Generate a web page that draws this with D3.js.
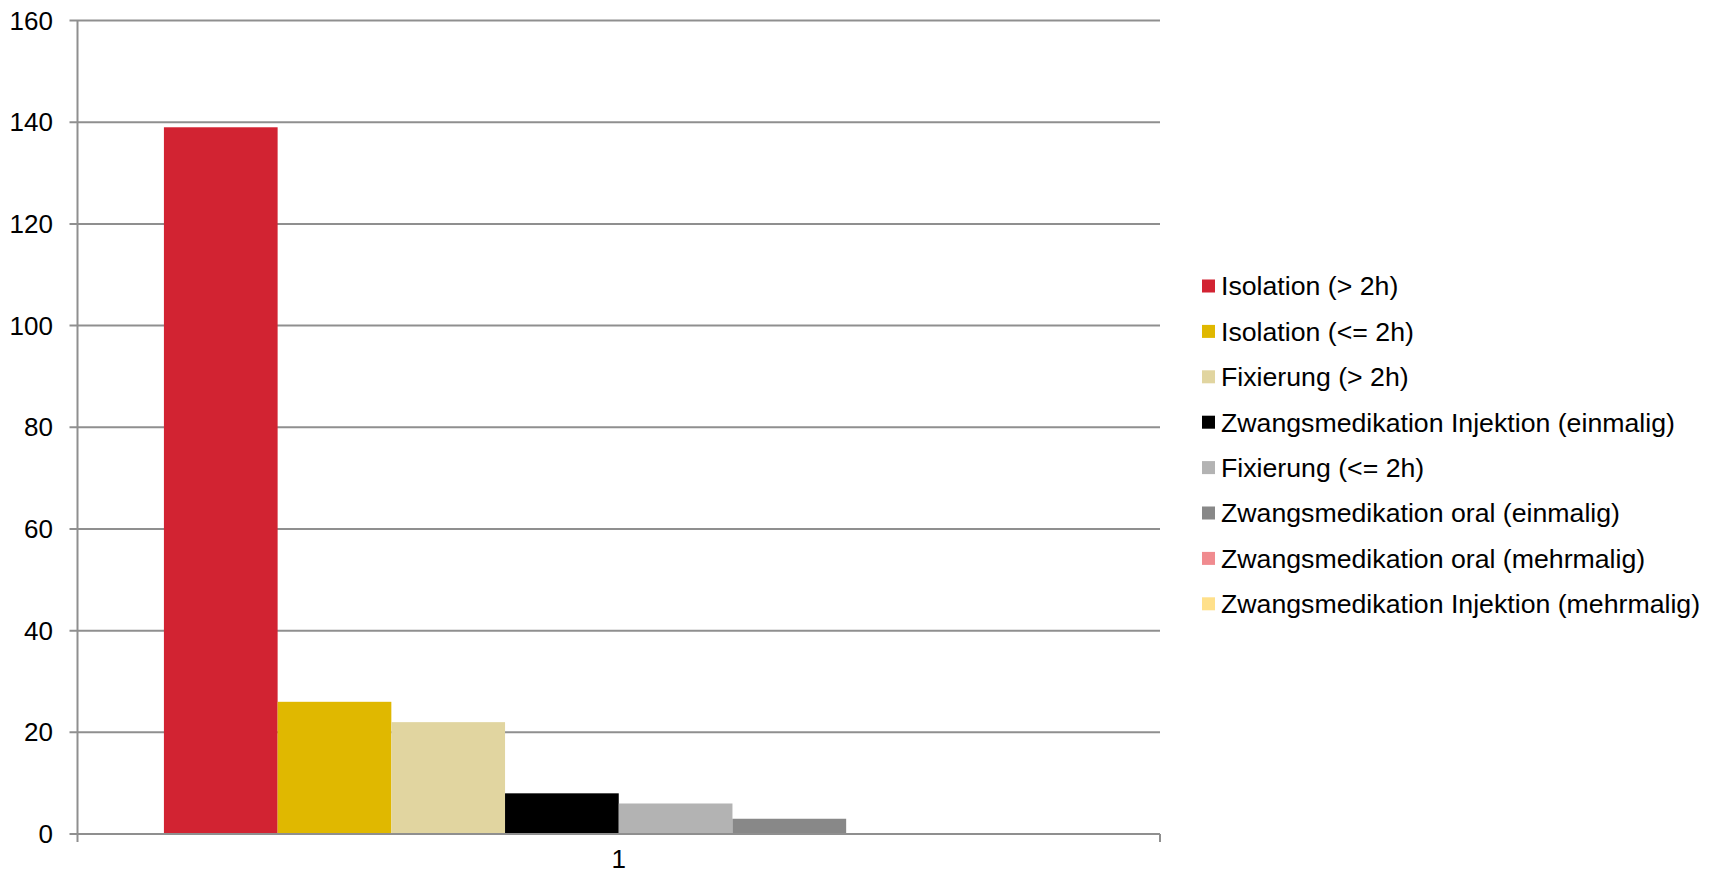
<!DOCTYPE html>
<html>
<head>
<meta charset="utf-8">
<script src="https://cdn.jsdelivr.net/npm/d3@7"></script>
<style>
  body { margin: 0; background: #fff; }
  text { font-family: "Liberation Sans", Arial, sans-serif; fill: #000; }
</style>
</head>
<body>
<svg id="chart" width="1713" height="874"></svg>
<script>
var categories = ['1'];
var seriesNames = [
  'Isolation (> 2h)',
  'Isolation (<= 2h)',
  'Fixierung (> 2h)',
  'Zwangsmedikation Injektion (einmalig)',
  'Fixierung (<= 2h)',
  'Zwangsmedikation oral (einmalig)',
  'Zwangsmedikation oral (mehrmalig)',
  'Zwangsmedikation Injektion (mehrmalig)'
];
var seriesValues = [139, 26, 22, 8, 6, 3, 0, 0];
var seriesColors = ['#d22332', '#e0b800', '#e1d5a0', '#000000', '#b3b3b3', '#888888', '#f08b8f', '#ffe08a'];
var yTicks = [0, 20, 40, 60, 80, 100, 120, 140, 160];

var svg = d3.select('#chart');
var plot = { left: 77.5, right: 1160, top: 20.5, bottom: 834 };
var gridColor = '#8f8f8f';

var y = d3.scaleLinear().domain([0, 160]).range([plot.bottom, plot.top]);
var x0 = d3.scaleBand().domain(categories).range([plot.left, plot.right]).padding(0);
// series inside the category band, with an Excel-style gap on both sides
var x1 = d3.scaleBand().domain(seriesNames)
  .range([0, x0.bandwidth()]).paddingInner(0).paddingOuter(0.76);

// horizontal gridlines + y tick marks
svg.append('g').selectAll('line').data(yTicks).enter()
  .append('line')
  .attr('x1', plot.left - 8).attr('x2', plot.right)
  .attr('y1', function(d) { return y(d); }).attr('y2', function(d) { return y(d); })
  .attr('stroke', gridColor).attr('stroke-width', 2);

// y labels
svg.append('g').selectAll('text').data(yTicks).enter()
  .append('text')
  .attr('x', 53).attr('y', function(d) { return y(d); })
  .attr('dy', '0.35em').attr('text-anchor', 'end')
  .style('font-size', '26px')
  .text(function(d) { return d; });

// bars
var group = svg.append('g').selectAll('g').data(categories).enter()
  .append('g').attr('transform', function(c) { return 'translate(' + x0(c) + ',0)'; });
group.selectAll('rect').data(seriesValues.map(function(v, i) {
    return { name: seriesNames[i], value: v, color: seriesColors[i] };
  })).enter()
  .append('rect')
  .attr('x', function(d) { return x1(d.name); })
  .attr('width', x1.bandwidth())
  .attr('y', function(d) { return y(d.value); })
  .attr('height', function(d) { return plot.bottom - y(d.value); })
  .attr('fill', function(d) { return d.color; });

// axis lines
svg.append('line')
  .attr('x1', plot.left).attr('x2', plot.left)
  .attr('y1', plot.top).attr('y2', plot.bottom + 8)
  .attr('stroke', gridColor).attr('stroke-width', 2);
svg.append('line')
  .attr('x1', plot.left).attr('x2', plot.right)
  .attr('y1', plot.bottom).attr('y2', plot.bottom)
  .attr('stroke', gridColor).attr('stroke-width', 2);
svg.append('line')
  .attr('x1', plot.right).attr('x2', plot.right)
  .attr('y1', plot.bottom).attr('y2', plot.bottom + 8)
  .attr('stroke', gridColor).attr('stroke-width', 2);

// category label
svg.append('g').selectAll('text').data(categories).enter()
  .append('text')
  .attr('x', function(c) { return x0(c) + x0.bandwidth() / 2; })
  .attr('y', 868)
  .attr('text-anchor', 'middle')
  .style('font-size', '26px')
  .text(function(c) { return c; });

// legend
var legend = svg.append('g').attr('transform', 'translate(1202,286)');
var rows = legend.selectAll('g').data(seriesNames).enter()
  .append('g').attr('transform', function(d, i) { return 'translate(0,' + (i * 45.4) + ')'; });
rows.append('rect')
  .attr('x', 0).attr('y', -6.5).attr('width', 13).attr('height', 13)
  .attr('fill', function(d, i) { return seriesColors[i]; });
rows.append('text')
  .attr('x', 19).attr('y', 0).attr('dy', '0.35em')
  .style('font-size', '26.7px')
  .text(function(d) { return d; });
</script>
</body>
</html>
